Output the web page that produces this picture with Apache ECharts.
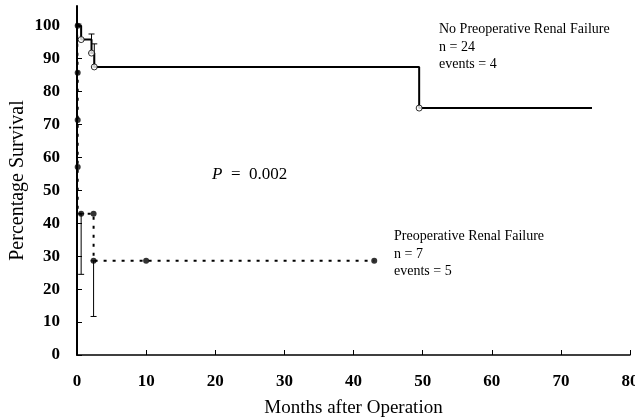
<!DOCTYPE html>
<html><head><meta charset="utf-8">
<script src="https://cdn.jsdelivr.net/npm/echarts@6/dist/echarts.min.js"></script>
<style>html,body{margin:0;padding:0;background:#fff}#c{width:635px;height:419px}</style>
</head><body><div id="c"></div>
<script>
// Data
var xTicks = [0, 10, 20, 30, 40, 50, 60, 70, 80];
var yTicks = [0, 10, 20, 30, 40, 50, 60, 70, 80, 90, 100];
// No Preoperative Renal Failure (KM step line)
var noRFTimes = [0, 0.6, 2.1, 2.5, 49.5, 74.5];
var noRFSurv  = [100, 95.8, 91.7, 87.5, 75.0, 75.0];
var noRFMarkTimes = [0.6, 2.1, 2.5, 49.5];
var noRFMarkSurv  = [95.8, 91.7, 87.5, 75.0];
var noRFErrTimes = [0.2, 2.1, 2.5];
var noRFErrLow   = [100, 91.7, 87.5];
var noRFErrHigh  = [100.5, 97.5, 94.5];
// Preoperative Renal Failure
var rfTimes = [0, 0.1, 0.1, 0.1, 0.1, 2.4, 43.0];
var rfSurv  = [100, 85.7, 71.4, 57.1, 42.9, 28.6, 28.6];
var rfMarkTimes = [0.1, 0.1, 0.1, 0.1, 0.6, 2.4, 2.4, 10.0, 43.0];
var rfMarkSurv  = [100, 85.7, 71.4, 57.1, 42.9, 42.9, 28.6, 28.6, 28.6];
var rfErrTimes = [0.6, 2.4];
var rfErrLow   = [24.5, 11.7];
var rfErrHigh  = [42.9, 28.6];

function zip(a, b) { return a.map(function (v, i) { return [v, b[i]]; }); }
function zip3(a, b, c) { return a.map(function (v, i) { return [v, b[i], c[i]]; }); }

function errRender(params, api) {
  var x = api.value(0), lo = api.value(1), hi = api.value(2);
  var pLo = api.coord([x, lo]), pHi = api.coord([x, hi]);
  var w = 3;
  return {
    type: 'group',
    children: [
      {type: 'line', shape: {x1: pLo[0], y1: pLo[1], x2: pHi[0], y2: pHi[1]}, style: {stroke: '#000', lineWidth: 1}},
      {type: 'line', shape: {x1: pLo[0] - w, y1: pLo[1], x2: pLo[0] + w, y2: pLo[1]}, style: {stroke: '#000', lineWidth: 1}},
      {type: 'line', shape: {x1: pHi[0] - w, y1: pHi[1], x2: pHi[0] + w, y2: pHi[1]}, style: {stroke: '#000', lineWidth: 1}}
    ]
  };
}

var serif = '"Liberation Serif", "Times New Roman", serif';
var chart = echarts.init(document.getElementById('c'), null, {renderer: 'canvas'});
chart.setOption({
  animation: false,
  backgroundColor: '#fff',
  grid: {left: 77, right: 5, top: 6, bottom: 64, containLabel: false, outerBoundsMode: 'none'},
  xAxis: {
    type: 'value', min: 0, max: 80, interval: 10,
    name: 'Months after Operation', nameLocation: 'middle', nameGap: 44, nameMoveOverlap: false,
    nameTextStyle: {fontFamily: serif, fontSize: 19, color: '#000'},
    axisLine: {lineStyle: {color: '#000', width: 1.5}},
    axisTick: {inside: true, length: 5, lineStyle: {color: '#000'}},
    axisLabel: {margin: 18, fontFamily: serif, fontSize: 17, fontWeight: 'bold', color: '#000',
      formatter: function (v) { return xTicks.indexOf(v) >= 0 ? String(v) : ''; }},
    splitLine: {show: false}
  },
  yAxis: {
    type: 'value', min: 0, max: 106, interval: 10,
    name: 'Percentage Survival', nameLocation: 'middle', nameGap: 49, nameRotate: 90, nameMoveOverlap: false,
    nameTextStyle: {fontFamily: serif, fontSize: 20, color: '#000'},
    axisLine: {show: true, lineStyle: {color: '#000', width: 2}},
    axisTick: {show: true, inside: true, length: 5, lineStyle: {color: '#000'}},
    axisLabel: {margin: 17, showMaxLabel: false, fontFamily: serif, fontSize: 17, fontWeight: 'bold', color: '#000',
      formatter: function (v) { return yTicks.indexOf(v) >= 0 ? String(v) : ''; }},
    splitLine: {show: false}
  },
  series: [
    {type: 'line', step: 'end', data: zip(noRFTimes, noRFSurv), showSymbol: false,
      lineStyle: {color: '#000', width: 2}, z: 3},
    {type: 'line', step: 'end', data: zip(rfTimes, rfSurv), showSymbol: false,
      lineStyle: {color: '#000', width: 2, type: [3, 6]}, z: 3},
    {type: 'custom', renderItem: errRender, data: zip3(noRFErrTimes, noRFErrLow, noRFErrHigh), z: 2},
    {type: 'custom', renderItem: errRender, data: zip3(rfErrTimes, rfErrLow, rfErrHigh), z: 2},
    {type: 'scatter', data: zip(noRFMarkTimes, noRFMarkSurv), symbol: 'circle', symbolSize: 6,
      itemStyle: {color: '#fff', borderColor: '#000', borderWidth: 1}, z: 5},
    {type: 'scatter', data: zip(rfMarkTimes, rfMarkSurv), symbol: 'circle', symbolSize: 6,
      itemStyle: {color: '#000'}, z: 5}
  ],
  graphic: [
    {type: 'text', left: 439, top: 21, style: {text: 'No Preoperative Renal Failure\nn = 24\nevents = 4',
      font: '14px ' + serif, fill: '#000', lineHeight: 17.3}},
    {type: 'text', left: 394, top: 228, style: {text: 'Preoperative Renal Failure\nn = 7\nevents = 5',
      font: '14px ' + serif, fill: '#000', lineHeight: 17.3}},
    {type: 'text', left: 212, top: 166, style: {rich: {i: {fontFamily: serif, fontStyle: 'italic', fontSize: 17, fill: '#000'},
      r: {fontFamily: serif, fontSize: 17, fill: '#000'}}, text: '{i|P}{r|  =  0.002}'}}
  ]
});
</script></body></html>
